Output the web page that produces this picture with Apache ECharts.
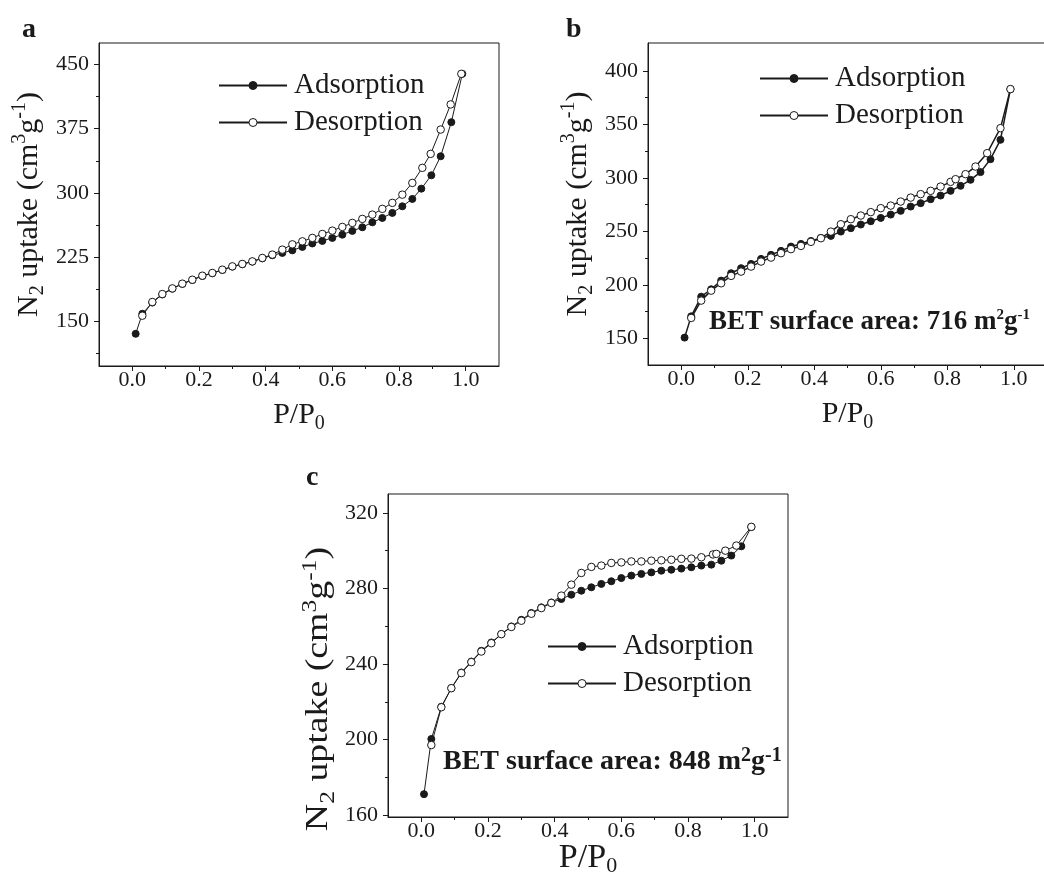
<!DOCTYPE html>
<html><head><meta charset="utf-8">
<script src="https://cdn.jsdelivr.net/npm/echarts@6/dist/echarts.min.js"></script>
<style>html,body{margin:0;padding:0;background:#fff}#c{width:1044px;height:885px}</style>
</head><body><div id="c"></div><script>
// ---- data (panel a) ----
const aAdsX = [0.01,0.03,0.06,0.09,0.12,0.15,0.18,0.21,0.24,0.27,0.30,0.33,0.36,0.39,0.42,0.45,0.48,0.51,0.54,0.57,0.60,0.63,0.66,0.69,0.72,0.75,0.78,0.81,0.84,0.867,0.897,0.925,0.957,0.99];
const aAdsY = [135.6,159,172,181.5,188.2,193.8,198.3,203,206.2,210,214,216.8,219.8,223.6,227.3,230,233,237,241,244,247.5,251.3,255.7,259.9,265.7,270.8,276.7,284.4,293,305,320.6,342.8,382.6,439];
const aDesX = [0.03,0.06,0.09,0.12,0.15,0.18,0.21,0.24,0.27,0.30,0.33,0.36,0.39,0.42,0.45,0.48,0.51,0.54,0.57,0.60,0.63,0.66,0.69,0.72,0.75,0.78,0.81,0.84,0.87,0.895,0.925,0.955,0.987];
const aDesY = [156.7,172.7,182,188.6,194.1,198.7,203.4,206.6,210.4,214.3,217.1,220.1,224.1,228,233.8,240,243.5,247.5,252.1,256,260.3,265,269.7,274.7,281.4,288.4,298,311.7,329.3,345.6,374,403.3,439];
// ---- data (panel b) ----
const bAdsX = [0.01,0.03,0.06,0.09,0.12,0.15,0.18,0.21,0.24,0.27,0.30,0.33,0.36,0.39,0.42,0.45,0.48,0.51,0.54,0.57,0.60,0.63,0.66,0.69,0.72,0.75,0.78,0.81,0.84,0.87,0.90,0.93,0.96,0.99];
const bAdsY = [150.6,170.5,188.9,195.8,203.9,210.8,215.5,219.5,224.2,228,231.7,235.7,238.2,241,243.8,245.7,249.7,252.9,256.3,259.4,262.5,265.6,269.1,273.1,276.3,280,283.4,287.8,292.5,298.1,305.3,317.4,335.5,382.9];
const bDesX = [0.03,0.06,0.09,0.12,0.15,0.18,0.21,0.24,0.27,0.30,0.33,0.36,0.39,0.42,0.45,0.48,0.51,0.54,0.57,0.60,0.63,0.66,0.69,0.72,0.75,0.78,0.81,0.825,0.855,0.885,0.92,0.96,0.99];
const bDesY = [169,185.2,194.5,201.4,208.3,212.3,217,221.7,225.4,229.5,233.3,236.3,240.1,243.5,249.7,256.6,261.3,264.7,267.9,271.6,274,277.8,281.5,284.7,287.8,291.8,296.2,298.7,303.4,310.5,323,346.4,382.9];
// ---- data (panel c) ----
const cAdsX = [0.008,0.03,0.06,0.09,0.12,0.15,0.18,0.21,0.24,0.27,0.30,0.33,0.36,0.39,0.42,0.45,0.48,0.51,0.54,0.57,0.60,0.63,0.66,0.69,0.72,0.75,0.78,0.81,0.84,0.87,0.90,0.93,0.96,0.99];
const cAdsY = [171.1,200.3,217.4,227.2,235.5,241.3,247,251.4,255.8,259.9,263.4,267,270,272.6,274.4,276.7,278.8,280.6,282.4,283.8,285.5,286.8,287.7,288.5,289.4,289.9,290.5,291.2,292.1,292.6,294.7,297.4,302.3,312.6];
const cDesX = [0.03,0.06,0.09,0.12,0.15,0.18,0.21,0.24,0.27,0.30,0.33,0.36,0.39,0.42,0.45,0.48,0.51,0.54,0.57,0.60,0.63,0.66,0.69,0.72,0.75,0.78,0.81,0.84,0.875,0.885,0.912,0.945,0.99];
const cDesY = [197.1,217.1,227.2,235.2,241,246.6,251,255.8,259.6,262.9,266.6,269.6,272.3,276.2,282,288.2,291.4,292.1,293.5,293.8,294.3,294.3,294.7,294.9,295.2,295.7,295.8,296.5,298,298.3,300,302.7,312.6];
// ---- ticks ----
const xMajor = [0, 0.2, 0.4, 0.6, 0.8, 1.0];
const xMinor = [0.1, 0.3, 0.5, 0.7, 0.9];
const aYMajor = [150, 225, 300, 375, 450];
const aYMinor = [112.5, 187.5, 262.5, 337.5, 412.5];
const bYMajor = [150, 200, 250, 300, 350, 400];
const bYMinor = [175, 225, 275, 325, 375];
const cYMajor = [160, 200, 240, 280, 320];
const cYMinor = [180, 220, 260, 300];
const seriesNames = ['Adsorption', 'Desorption'];
const panelLetters = ['a', 'b', 'c'];
const betB = 'BET surface area: 716 m{s|2}g{s|-1}';
const betC = 'BET surface area: 848 m{s|2}g{s|-1}';

const SERIF = "'Liberation Serif','Times New Roman',serif";
const INK = '#1a1a1a';
const zip = (xs, ys) => xs.map((x, i) => [x, ys[i]]);

function nameRich(fs, sfs, pad) {
  return {
    m: {fontFamily: SERIF, fontSize: fs, color: INK},
    sub: {fontFamily: SERIF, fontSize: sfs, color: INK, padding: [pad, 0, 0, 0]},
    sup: {fontFamily: SERIF, fontSize: sfs, color: INK, padding: [0, 0, pad, 0]}
  };
}
const yName = '{m|N}{sub|2}{m| uptake (cm}{sup|3}{m|g}{sup|-1}{m|)}';
const xName = '{m|P/P}{sub|0}';

function xAxes(grid, fs, gap, sfs, pad) {
  return [{
    type: 'value', gridIndex: grid, min: -0.1, max: 1.1, position: 'bottom',
    axisLine: {show: true, onZero: false, lineStyle: {color: INK, width: 1}},
    axisTick: {show: true, length: 5, customValues: xMajor, lineStyle: {color: INK, width: 1}},
    axisLabel: {show: true, margin: 3, customValues: xMajor, fontFamily: SERIF, fontSize: 22, color: INK,
      formatter: v => v.toFixed(1)},
    splitLine: {show: false},
    name: xName, nameLocation: 'middle', nameGap: gap, nameMoveOverlap: false,
    nameTextStyle: {rich: nameRich(fs, sfs, pad)}
  }, {
    type: 'value', gridIndex: grid, min: -0.1, max: 1.1, position: 'bottom',
    axisLine: {show: false, onZero: false},
    axisTick: {show: true, length: 3, customValues: xMinor, lineStyle: {color: INK, width: 1}},
    axisLabel: {show: false}, splitLine: {show: false}
  }];
}
function yAxes(grid, min, max, major, minor, withName) {
  const main = {
    type: 'value', gridIndex: grid, min: min, max: max, position: 'left',
    axisLine: {show: true, onZero: false, lineStyle: {color: INK, width: 1}},
    axisTick: {show: true, length: 5, customValues: major, lineStyle: {color: INK, width: 1}},
    axisLabel: {show: true, margin: 10, customValues: major, fontFamily: SERIF, fontSize: 22, color: INK,
      formatter: v => String(Math.round(v))},
    splitLine: {show: false}
  };
  if (withName) {
    Object.assign(main, {name: yName, nameLocation: 'middle', nameGap: 51, nameMoveOverlap: false,
      nameTextStyle: {rich: nameRich(30, 20, 18)}});
  }
  return [main, {
    type: 'value', gridIndex: grid, min: min, max: max, position: 'left',
    axisLine: {show: false, onZero: false},
    axisTick: {show: true, length: 3, customValues: minor, lineStyle: {color: INK, width: 1}},
    axisLabel: {show: false}, splitLine: {show: false}
  }];
}
function pair(idx, adsX, adsY, desX, desY, lw) {
  return [{
    type: 'line', name: seriesNames[0], xAxisIndex: idx * 2, yAxisIndex: idx * 2,
    data: zip(adsX, adsY), symbol: 'circle', symbolSize: 7, z: 3,
    lineStyle: {color: INK, width: lw}, itemStyle: {color: INK, borderColor: INK, borderWidth: 1}
  }, {
    type: 'line', name: seriesNames[1], xAxisIndex: idx * 2, yAxisIndex: idx * 2,
    data: zip(desX, desY), symbol: 'circle', symbolSize: 7.5, z: 4,
    lineStyle: {color: INK, width: lw}, itemStyle: {color: '#fff', borderColor: INK, borderWidth: 1}
  }];
}
function legend(left, top) {
  return {
    data: seriesNames, orient: 'vertical', left: left, top: top, padding: 0,
    itemWidth: 68, itemHeight: 10, itemGap: 8,
    selectedMode: false, itemStyle: {borderWidth: 1},
    textStyle: {fontFamily: SERIF, fontSize: 29, lineHeight: 29, color: INK, padding: [0, 0, 0, 2]}
  };
}
const letterStyle = {fontFamily: SERIF, fontSize: 28, fontWeight: 'bold', color: INK};
function betStyle(fs, sfs, pad) {
  return {fontFamily: SERIF, fontSize: fs, fontWeight: 'bold', color: INK,
    rich: {s: {fontFamily: SERIF, fontSize: sfs, fontWeight: 'bold', color: INK, padding: [0, 0, pad, 0]}}};
}

const option = {
  animation: false,
  backgroundColor: '#fff',
  title: [
    {text: panelLetters[0], left: 22, top: 16, padding: 0, textStyle: letterStyle},
    {text: panelLetters[1], left: 566, top: 16, padding: 0, textStyle: letterStyle},
    {text: panelLetters[2], left: 306, top: 464, padding: 0, textStyle: letterStyle},
    {text: betB, left: 709, top: 308, padding: 0, textStyle: betStyle(27, 15, 13)},
    {text: betC, left: 443, top: 746, padding: 0, textStyle: betStyle(28, 20, 11)}
  ],
  legend: [legend(218, 71), legend(759, 64), legend(547, 632)],
  grid: [
    {left: 99, top: 43, width: 400, height: 323, show: true, borderColor: INK, borderWidth: 1, backgroundColor: 'transparent', outerBoundsMode: 'none'},
    {left: 648, top: 43, width: 399, height: 322, show: true, borderColor: INK, borderWidth: 1, backgroundColor: 'transparent', outerBoundsMode: 'none'},
    {left: 388, top: 494, width: 400, height: 323, show: true, borderColor: INK, borderWidth: 1, backgroundColor: 'transparent', outerBoundsMode: 'none'}
  ],
  xAxis: [].concat(xAxes(0, 30, 30, 20, 18), xAxes(1, 30, 30, 20, 18), xAxes(2, 34, 22, 22, 16)),
  yAxis: [].concat(
    yAxes(0, 98, 475, aYMajor, aYMinor, true),
    yAxes(1, 125, 426, bYMajor, bYMinor, true),
    yAxes(2, 159, 330, cYMajor, cYMinor, false)
  ),
  graphic: [{
    type: 'text', x: 319, y: 689, rotation: Math.PI / 2, scaleX: 1.22,
    style: {text: yName, rich: nameRich(31, 21, 18), fontFamily: SERIF, fontSize: 31, fill: INK,
      align: 'center', verticalAlign: 'middle'}
  }],
  series: [].concat(
    pair(0, aAdsX, aAdsY, aDesX, aDesY, 1),
    pair(1, bAdsX, bAdsY, bDesX, bDesY, 1.5),
    pair(2, cAdsX, cAdsY, cDesX, cDesY, 1)
  )
};
const chart = echarts.init(document.getElementById('c'), null, {renderer: 'canvas'});
chart.setOption(option);
</script></body></html>
